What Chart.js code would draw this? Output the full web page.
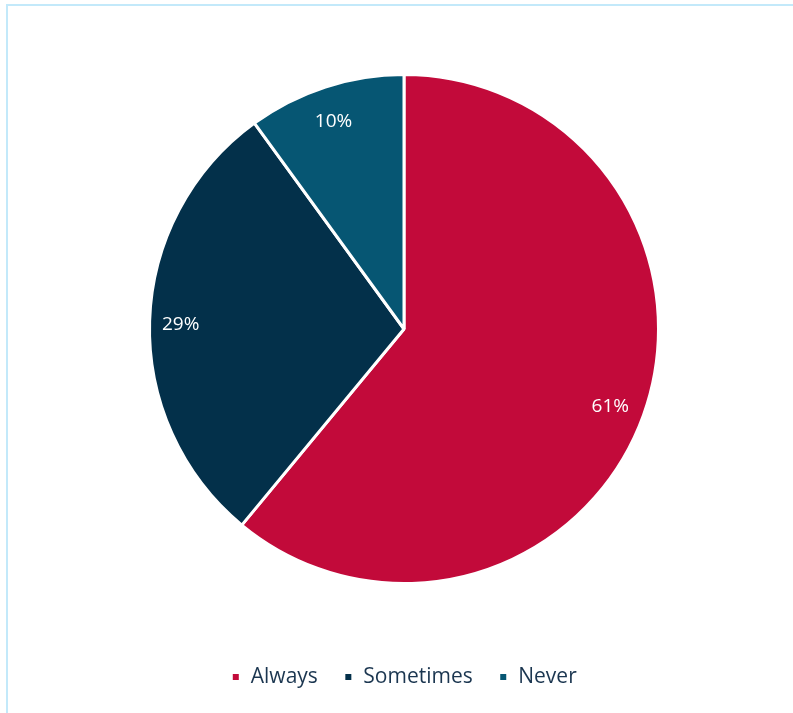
<!DOCTYPE html>
<html lang="en">
<head>
    <meta charset="UTF-8">
    <title>Always / Sometimes / Never</title>
    <script src="https://cdn.jsdelivr.net/npm/chart.js"></script>
    <style>
        body {
            margin: 0;
            background: #ffffff;
        }

        /* light blue frame, only top and left edges fall inside the page */
        #frame {
            position: absolute;
            left: 6px;
            top: 4px;
            width: 800px;
            height: 720px;
            border-left: 2px solid #c3e9fa;
            border-top: 2px solid #c3e9fa;
        }

        #wrap {
            position: absolute;
            left: 0;
            top: 0;
            width: 793px;
            height: 713px;
        }
    </style>
</head>
<body>

    <div id="frame"></div>
    <div id="wrap"><canvas id="chart"></canvas></div>

    <script>
        var categories = ['Always', 'Sometimes', 'Never'];
        var shares = [61, 29, 10];
        var sliceColors = ['#c20a3a', '#03304a', '#065673'];

        // writes the percentage inside each slice, towards the rim
        var sliceLabels = {
            id: 'sliceLabels',
            afterDatasetsDraw: function(chart) {
                var ctx = chart.ctx;
                var meta = chart.getDatasetMeta(0);
                ctx.save();
                ctx.fillStyle = '#ffffff';
                ctx.font = '19px "Open Sans"';
                ctx.textAlign = 'center';
                ctx.textBaseline = 'middle';
                meta.data.forEach(function(arc, i) {
                    var mid = (arc.startAngle + arc.endAngle) / 2;
                    var r = arc.outerRadius * 0.87;
                    ctx.fillText(shares[i] + '%', arc.x + Math.cos(mid) * r - 2, arc.y + Math.sin(mid) * r + 3);
                });
                ctx.restore();
            }
        };

        new Chart(document.getElementById('chart'), {
            type: 'pie',
            data: {
                labels: categories,
                datasets: [{
                    data: shares,
                    backgroundColor: sliceColors,
                    borderColor: '#ffffff',
                    borderWidth: 3
                }]
            },
            options: {
                responsive: true,
                maintainAspectRatio: false,
                animation: false,
                layout: {
                    padding: { left: 148, right: 133, top: 17.5, bottom: 15.5 }
                },
                plugins: {
                    tooltip: { enabled: false },
                    legend: {
                        position: 'bottom',
                        labels: {
                            boxWidth: 9,
                            boxHeight: 9,
                            padding: 26,
                            color: '#1b3650',
                            font: { family: '"Open Sans"', size: 21 }
                        }
                    }
                }
            },
            plugins: [sliceLabels]
        });
    </script>

</body>
</html>
